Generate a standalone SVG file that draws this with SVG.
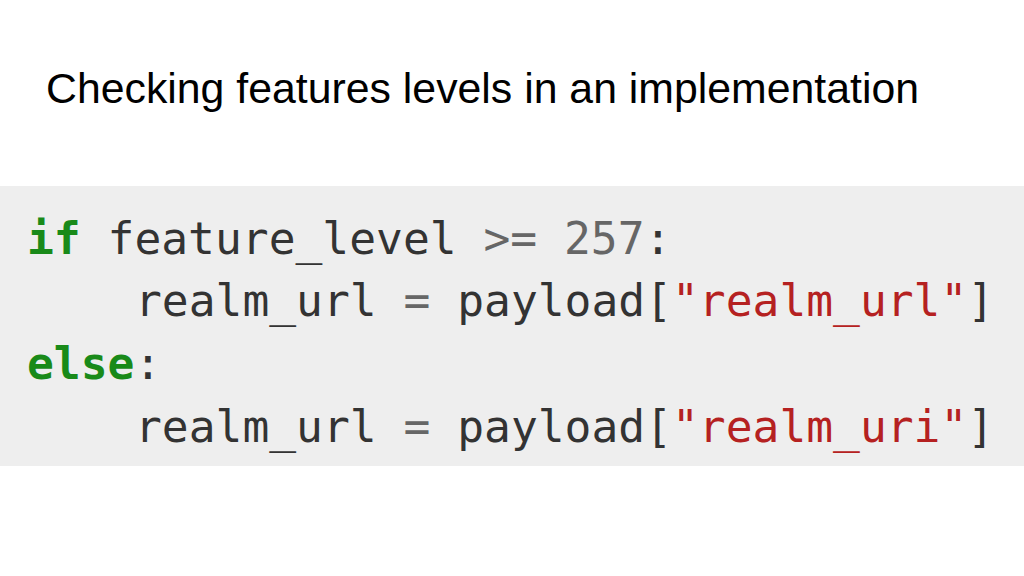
<svg xmlns="http://www.w3.org/2000/svg" width="1024" height="576" viewBox="0 0 1024 576">
<style>
.t{font-family:"Liberation Sans",Arial,sans-serif;font-size:42.8px;fill:#000}
.c{font-family:"DejaVu Sans Mono","Liberation Mono",monospace;font-size:44.6px;fill:#333}
.k{fill:#198a19;font-weight:bold}
.o{fill:#666}
.s{fill:#b52121}
</style>
<rect width="1024" height="576" fill="#fff"/>
<text class="t" x="46" y="103">Checking features levels in an implementation</text>
<g id="code">
<rect x="0" y="186" width="1024" height="280" fill="#eeeeee"/>
<text class="c" x="27" y="254" xml:space="preserve"><tspan class="k">if</tspan> feature_level <tspan class="o">&gt;=</tspan> <tspan class="o">257</tspan>:</text>
<text class="c" x="135" y="316" xml:space="preserve">realm_url <tspan class="o">=</tspan> payload[<tspan class="s">"realm_url"</tspan>]</text>
<text class="c" x="27" y="379"><tspan class="k">else</tspan>:</text>
<text class="c" x="135" y="442" xml:space="preserve">realm_url <tspan class="o">=</tspan> payload[<tspan class="s">"realm_uri"</tspan>]</text>
</g>
</svg>
